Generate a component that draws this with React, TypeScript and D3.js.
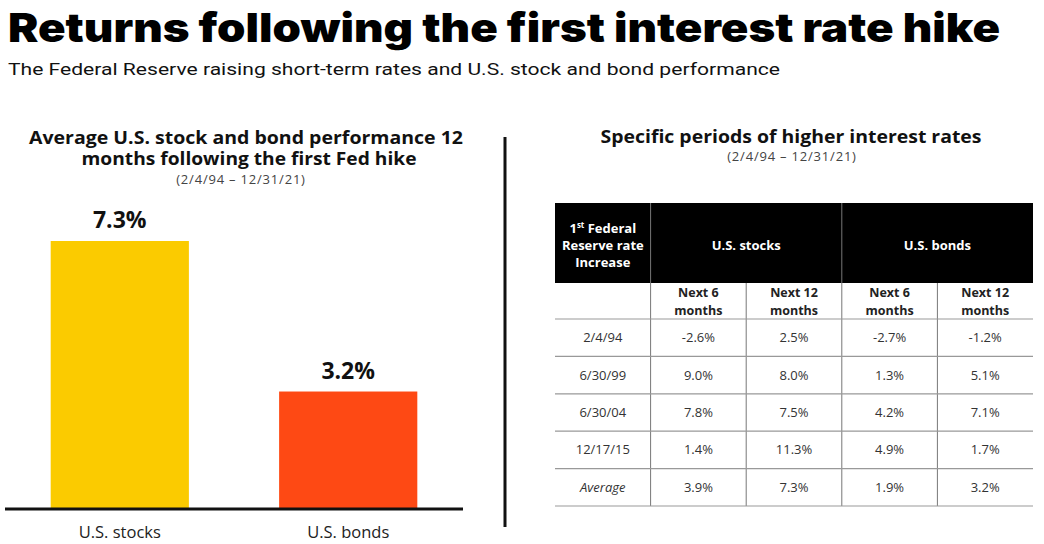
import React from 'react'
import * as d3 from 'd3'

const barCategories = ['U.S. stocks', 'U.S. bonds']
const barValues = [7.3, 3.2]
const barColors = ['#FBCB00', '#FE4914']

const tableDates = ['2/4/94', '6/30/99', '6/30/04', '12/17/15', 'Average']
const stocks6 = ['-2.6%', '9.0%', '7.8%', '1.4%', '3.9%']
const stocks12 = ['2.5%', '8.0%', '7.5%', '11.3%', '7.3%']
const bonds6 = ['-2.7%', '1.3%', '4.2%', '4.9%', '1.9%']
const bonds12 = ['-1.2%', '5.1%', '7.1%', '1.7%', '3.2%']

const W = 1044
const H = 544
const FONT = '"Open Sans", sans-serif'

const App = () => {
  // left bar chart
  const baseY = 509
  const xScale = d3.scaleBand().domain(barCategories).range([5, 463]).paddingInner(0.395).paddingOuter(0.2)
  const yScale = d3.scaleLinear().domain([0, 7.3]).range([baseY, 241])

  // right table
  const cols = ['date', 's6', 's12', 'b6', 'b12']
  const colScale = d3.scaleBand().domain(cols).range([555, 1033])
  const rowScale = d3.scaleBand().domain(tableDates).range([319, 506])
  const tableCols = [tableDates, stocks6, stocks12, bonds6, bonds12]
  const headTop = 203
  const headBottom = 283
  const cx = (c: string) => colScale(c)! + colScale.bandwidth() / 2

  return (
    <svg width={W} height={H} style={{ position: 'absolute', left: 0, top: 0, background: '#fff' }} fontFamily={FONT}>
      <text x={8} y={42} fontFamily="Inter, sans-serif" fontWeight={900} fontSize={40} textLength={992} lengthAdjust="spacingAndGlyphs" fill="#000">
        Returns following the first interest rate hike
      </text>
      <text x={8} y={75} fontFamily="Roboto, sans-serif" fontSize={17} fill="#111" textLength={772} lengthAdjust="spacingAndGlyphs">
        The Federal Reserve raising short-term rates and U.S. stock and bond performance
      </text>

      {/* left panel */}
      <g fill="#111" textAnchor="middle">
        <text x={246} y={144} fontSize={17} fontWeight={700} textLength={434} lengthAdjust="spacingAndGlyphs">Average U.S. stock and bond performance 12</text>
        <text x={249} y={165} fontSize={17} fontWeight={700} textLength={335} lengthAdjust="spacingAndGlyphs">months following the first Fed hike</text>
        <text x={241} y={184} fontSize={13} fill="#444" letterSpacing={0.8}>(2/4/94 – 12/31/21)</text>
      </g>
      {barCategories.map((c, i) => (
        <g key={c}>
          <rect x={xScale(c)} y={yScale(barValues[i])} width={xScale.bandwidth()} height={baseY - yScale(barValues[i])} fill={barColors[i]} />
          <text x={xScale(c)! + xScale.bandwidth() / 2} y={yScale(barValues[i]) - 13} textAnchor="middle" fontSize={23} fontWeight={700} fill="#111">
            {barValues[i].toFixed(1)}%
          </text>
          <text x={xScale(c)! + xScale.bandwidth() / 2} y={538} textAnchor="middle" fontSize={16.5} fill="#222">{c}</text>
        </g>
      ))}
      <line x1={5} x2={463} y1={baseY} y2={baseY} stroke="#111" strokeWidth={3} />
      <line x1={505} x2={505} y1={137} y2={527} stroke="#111" strokeWidth={3} />

      {/* right panel */}
      <g fill="#111" textAnchor="middle">
        <text x={791} y={143} fontSize={17} fontWeight={700} textLength={381} lengthAdjust="spacingAndGlyphs">Specific periods of higher interest rates</text>
        <text x={792} y={161} fontSize={13} fill="#444" letterSpacing={0.8}>(2/4/94 – 12/31/21)</text>
      </g>
      <rect x={555} y={headTop} width={1033 - 555} height={headBottom - headTop} fill="#000" />
      <g stroke="#777" strokeWidth={1}>
        <line x1={colScale('s6')} x2={colScale('s6')} y1={headTop} y2={506} />
        <line x1={colScale('b6')} x2={colScale('b6')} y1={headTop} y2={506} />
        <line x1={colScale('s12')} x2={colScale('s12')} y1={headBottom} y2={506} />
        <line x1={colScale('b12')} x2={colScale('b12')} y1={headBottom} y2={506} />
      </g>
      <g fill="#fff" fontWeight={700} fontSize={13} textAnchor="middle">
        <text x={cx('date')} y={233}>
          1<tspan fontSize={8} dy={-5}>st</tspan><tspan dy={5}> Federal</tspan>
        </text>
        <text x={cx('date')} y={250}>Reserve rate</text>
        <text x={cx('date')} y={267}>Increase</text>
        <text x={colScale('s12')} y={250}>U.S. stocks</text>
        <text x={colScale('b12')} y={250}>U.S. bonds</text>
      </g>
      <g fill="#222" fontWeight={700} fontSize={12.5} textAnchor="middle">
        {cols.slice(1).map((c, i) => (
          <g key={c}>
            <text x={cx(c)} y={297}>{i % 2 === 0 ? 'Next 6' : 'Next 12'}</text>
            <text x={cx(c)} y={315}>months</text>
          </g>
        ))}
      </g>
      {tableDates.map((d, r) => (
        <g key={d}>
          <line x1={555} x2={1033} y1={rowScale(d)} y2={rowScale(d)} stroke="#999" strokeWidth={1.2} />
          {tableCols.map((vals, ci) => (
            <text key={ci} x={cx(cols[ci])} y={rowScale(d)! + rowScale.bandwidth() / 2 + 4.5}
              textAnchor="middle" fontSize={13} fill="#333" fontStyle={d === 'Average' && ci === 0 ? 'italic' : 'normal'}>
              {vals[r]}
            </text>
          ))}
        </g>
      ))}
      <line x1={555} x2={1033} y1={506} y2={506} stroke="#999" strokeWidth={1.2} />
    </svg>
  )
}

export default App
